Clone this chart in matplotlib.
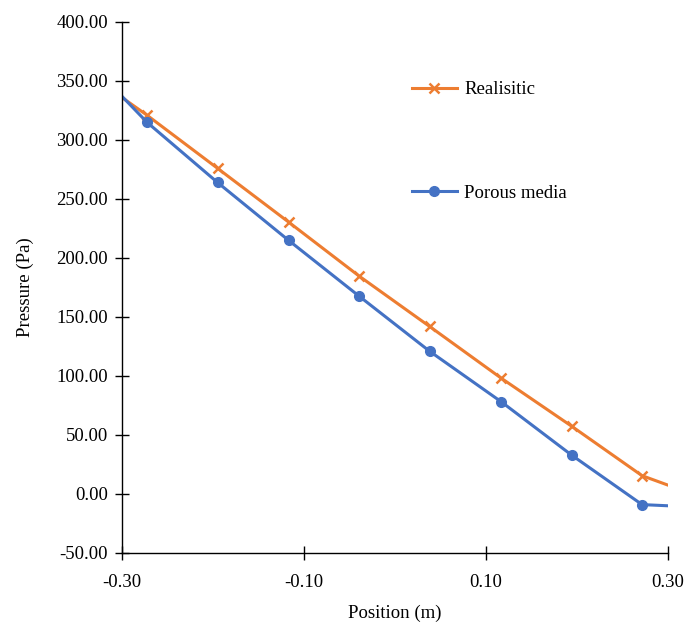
import numpy as np
import matplotlib.pyplot as plt
from matplotlib.ticker import FormatStrFormatter

plt.rcParams['font.family'] = ['Liberation Serif', 'DejaVu Serif']

# data (end points have no marker)
position = [-0.30, -0.2725, -0.195, -0.117, -0.040, 0.038, 0.117, 0.194, 0.2715, 0.30]
realistic = [336, 321, 276, 230.5, 185, 142, 98, 57.5, 15.5, 7.5]
porous = [337, 315, 264, 215, 168, 121, 78, 33, -9, -10]

fig = plt.figure(figsize=(6.92, 6.34), dpi=100)
ax = fig.add_axes([0.1763, 0.1278, 0.789, 0.8375])

ax.plot(position, realistic, color='#ED7D31', lw=2.2, marker='x', ms=7, mew=1.8,
        markevery=range(1, 9), label='Realisitic')
ax.plot(position, porous, color='#4472C4', lw=2.2, marker='o', ms=7,
        markevery=range(1, 9), label='Porous media')

ax.set_xlim(-0.30, 0.30)
ax.set_ylim(-50, 400)
ax.set_xticks([-0.30, -0.10, 0.10, 0.30])
ax.set_yticks(np.arange(-50, 401, 50))
ax.xaxis.set_major_formatter(FormatStrFormatter('%.2f'))
ax.yaxis.set_major_formatter(FormatStrFormatter('%.2f'))
ax.tick_params(direction='inout', length=10, width=1, labelsize=13.5)
ax.tick_params(axis='y', pad=5)
ax.tick_params(axis='x', pad=10)

for s in ['top', 'right']:
    ax.spines[s].set_visible(False)
for s in ['left', 'bottom']:
    ax.spines[s].set_linewidth(1)

ax.set_xlabel('Position (m)', fontsize=13.5, labelpad=10)
ax.set_ylabel('Pressure (Pa)', fontsize=13.5, labelpad=16)

ax.legend(loc='upper left', bbox_to_anchor=(0.5, 0.92), frameon=False,
          fontsize=13.5, labelspacing=4.6, handlelength=2.4, handletextpad=0.4)

fig.savefig('out.png', dpi=100)
